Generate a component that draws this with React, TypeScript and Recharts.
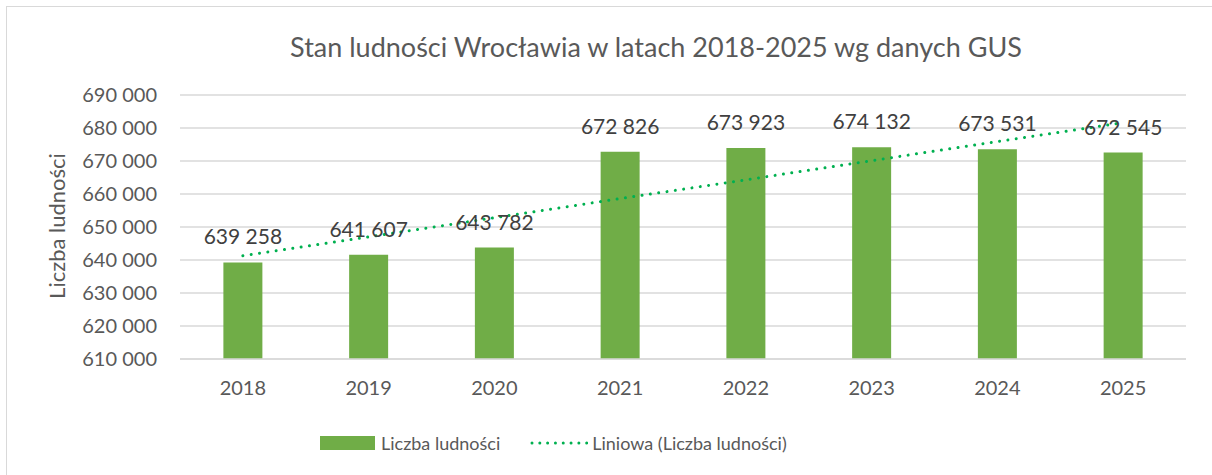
import {
  ComposedChart,
  Bar,
  Line,
  XAxis,
  YAxis,
  CartesianGrid,
  LabelList,
} from "recharts";

const years = ["2018", "2019", "2020", "2021", "2022", "2023", "2024", "2025"];
const population = [639258, 641607, 643782, 672826, 673923, 674132, 673531, 672545];
// linear trend line
const trend = [641300, 647000, 652800, 658600, 664300, 670100, 675900, 681600];
const yTicks = [610000, 620000, 630000, 640000, 650000, 660000, 670000, 680000, 690000];

const data = years.map((year, i) => ({
  year,
  population: population[i],
  trend: trend[i],
}));

const FONT = "Lato, 'Open Sans', sans-serif";
const BAR = "#70AD47";
const TREND = "#00B050";
const TEXT = "#595959";

const fmt = (v: number) => String(v).replace(/\B(?=(\d{3})+(?!\d))/g, " ");

const renderValue = (props: any) => {
  const { x, y, width, value } = props;
  return (
    <text
      x={Number(x) + Number(width) / 2}
      y={Number(y) - 18}
      textAnchor="middle"
      fill="#404040"
      fontSize={21}
      fontFamily={FONT}
    >
      {fmt(Number(value))}
    </text>
  );
};

export default function App() {
  return (
    <div
      style={{
        position: "absolute",
        left: 0,
        top: 0,
        width: 1212,
        height: 475,
        background: "#fff",
        fontFamily: FONT,
        overflow: "hidden",
      }}
    >
      <div
        style={{
          position: "absolute",
          left: 6,
          top: 6,
          width: 1220,
          height: 480,
          border: "1.5px solid #D9D9D9",
        }}
      />
      <div
        style={{
          position: "absolute",
          left: 100,
          width: 1112,
          top: 30,
          textAlign: "center",
          fontSize: 27,
          color: TEXT,
          lineHeight: "34px",
        }}
      >
        Stan ludności Wrocławia w latach 2018-2025 wg danych GUS
      </div>
      <div
        style={{
          position: "absolute",
          left: 56,
          top: 226,
          transform: "translate(-50%, -50%) rotate(-90deg)",
          fontSize: 22,
          color: TEXT,
          whiteSpace: "nowrap",
        }}
      >
        Liczba ludności
      </div>
      <div style={{ position: "absolute", left: 0, top: 0 }}>
        <ComposedChart
          width={1212}
          height={475}
          data={data}
          margin={{ top: 95, right: 26, bottom: 86, left: 100 }}
          barCategoryGap="34.5%"
        >
          <CartesianGrid vertical={false} stroke="#D9D9D9" strokeWidth={1.5} />
          <XAxis
            dataKey="year"
            height={30}
            axisLine={{ stroke: "#D9D9D9", strokeWidth: 1.5 }}
            tickLine={false}
            tickSize={6}
            tickMargin={16}
            tick={{ fill: TEXT, fontSize: 20, fontFamily: FONT }}
          />
          <YAxis
            width={80}
            domain={[610000, 690000]}
            ticks={yTicks}
            tickFormatter={fmt}
            axisLine={false}
            tickLine={false}
            tickSize={6}
            tickMargin={17}
            tick={{ fill: TEXT, fontSize: 20, fontFamily: FONT }}
          />
          <Bar dataKey="population" fill={BAR} isAnimationActive={false}>
            <LabelList dataKey="population" content={renderValue} />
          </Bar>
          <Line
            dataKey="trend"
            stroke={TREND}
            strokeWidth={3}
            strokeDasharray="0.01 8.4"
            strokeLinecap="round"
            dot={false}
            activeDot={false}
            isAnimationActive={false}
          />
        </ComposedChart>
      </div>
      <div
        style={{
          position: "absolute",
          left: 320,
          top: 432,
          display: "flex",
          alignItems: "center",
          fontSize: 18,
          color: TEXT,
          whiteSpace: "nowrap",
        }}
      >
        <span style={{ display: "inline-block", width: 55, height: 14, background: BAR }} />
        <span style={{ marginLeft: 6 }}>Liczba ludności</span>
        <svg width={58} height={14} style={{ marginLeft: 30 }}>
          <line
            x1={2}
            y1={7}
            x2={57}
            y2={7}
            stroke={TREND}
            strokeWidth={3}
            strokeDasharray="0.01 7.8"
            strokeLinecap="round"
          />
        </svg>
        <span style={{ marginLeft: 4 }}>Liniowa (Liczba ludności)</span>
      </div>
    </div>
  );
}
